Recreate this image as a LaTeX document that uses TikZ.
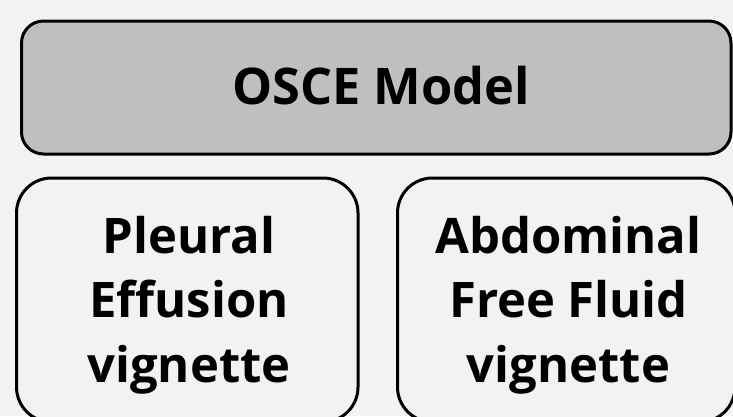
\documentclass[tikz,border=0pt]{standalone}
\usepackage{fontspec}
\setmainfont{Open Sans}[Ligatures=NoCommon]
\definecolor{bg}{HTML}{F2F2F2}
\definecolor{boxgray}{HTML}{BFBFBF}
\tikzset{
  basebox/.style={draw=black, line width=3pt, inner sep=0pt},
  topbox/.style={basebox, fill=boxgray, rounded corners=22pt},
  sidebox/.style={basebox, fill=bg, rounded corners=35pt},
  labeltext/.style={align=center, inner sep=0pt, anchor=center,
    font=\fontsize{49}{64.5}\selectfont\bfseries}
}
\begin{document}
\begin{tikzpicture}[x=1pt,y=-1pt]
\useasboundingbox (0,0) rectangle (733,416);
\fill[bg] (0,0) rectangle (733,416);
\begin{scope}
\clip (0,0) rectangle (733,416);
\node[topbox, minimum width=709.5pt, minimum height=133pt] (osce) at (376.25,87.5) {};
\node[sidebox, minimum width=341.5pt, minimum height=244pt] (pleural) at (187.25,300) {};
\node[sidebox, minimum width=337.5pt, minimum height=244pt] (abdominal) at (566.25,300) {};
\node[labeltext, font=\fontsize{50.5}{64.5}\selectfont\bfseries] (oscetext) at (381,86) {OSCE Model};
\node[labeltext] (pleuraltext) at (189,305) {Pleural\\Effusion\\vignette};
\node[labeltext] (abdominaltext) at (568.5,305) {Abdominal\\Free Fluid\\vignette};
\end{scope}
\end{tikzpicture}
\end{document}
